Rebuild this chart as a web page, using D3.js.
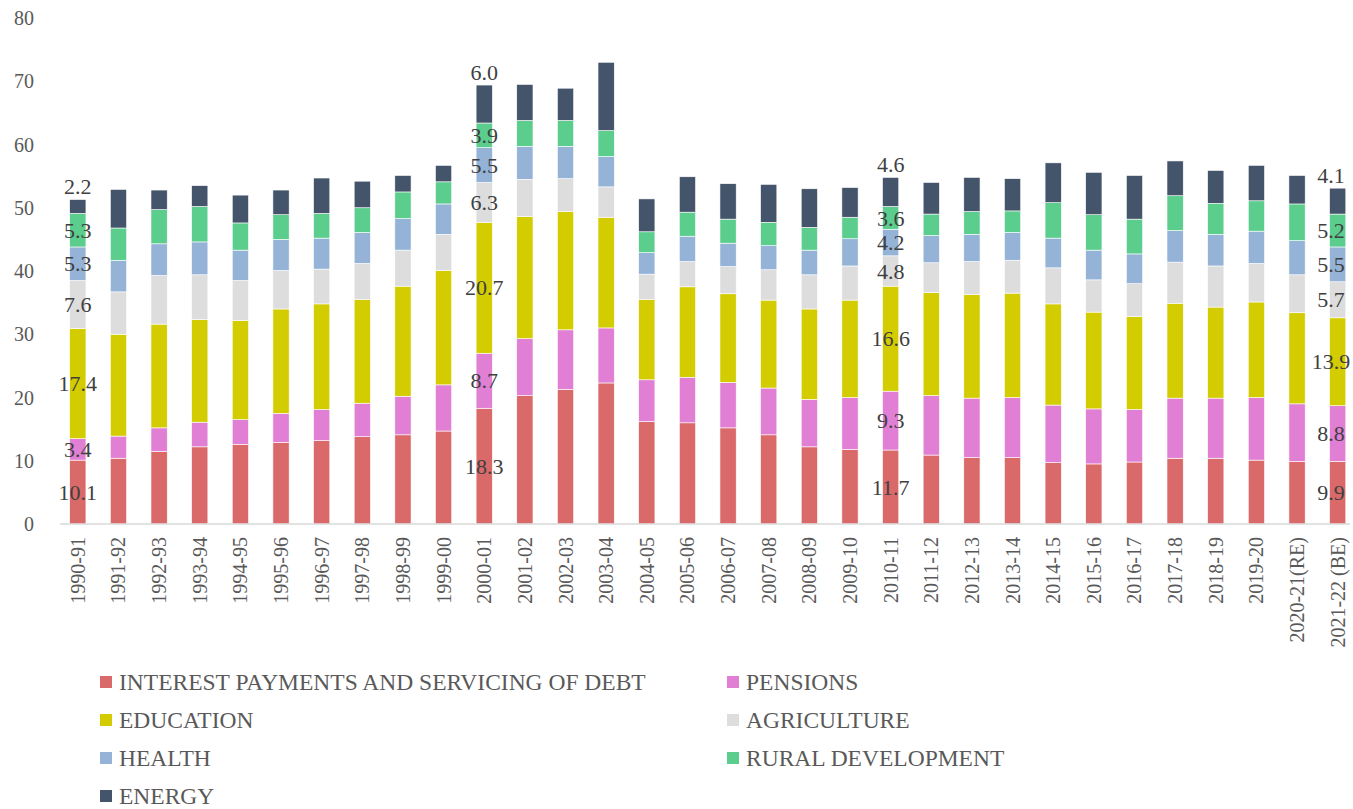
<html>
<head>
<title>Expenditure shares</title>
<script src="https://cdn.jsdelivr.net/npm/d3@7"></script>
<style>
  body { margin: 0; background: #fff; }
  text { font-family: "Liberation Serif", "DejaVu Serif", serif; }
</style>
</head>
<body>
<script>
// years on the x axis
const years = ["1990-91","1991-92","1992-93","1993-94","1994-95","1995-96","1996-97","1997-98","1998-99","1999-00",
  "2000-01","2001-02","2002-03","2003-04","2004-05","2005-06","2006-07","2007-08","2008-09","2009-10",
  "2010-11","2011-12","2012-13","2013-14","2014-15","2015-16","2016-17","2017-18","2018-19","2019-20",
  "2020-21(RE)","2021-22 (BE)"];

const seriesNames = ["INTEREST PAYMENTS AND SERVICING OF DEBT","PENSIONS","EDUCATION","AGRICULTURE","HEALTH","RURAL DEVELOPMENT","ENERGY"];

// one array per series
const interest = [10.1,10.4,11.5,12.2,12.6,12.9,13.2,13.8,14.1,14.7,18.3,20.3,21.3,22.3,16.2,16.0,15.2,14.1,12.2,11.8,11.7,10.9,10.5,10.5,9.7,9.5,9.8,10.4,10.4,10.1,9.9,9.9];
const pensions = [3.4,3.5,3.7,3.9,3.9,4.6,4.9,5.3,6.1,7.3,8.7,9.0,9.4,8.7,6.6,7.2,7.2,7.4,7.5,8.2,9.3,9.4,9.4,9.5,9.1,8.7,8.3,9.5,9.5,9.9,9.1,8.8];
const education = [17.4,16.1,16.4,16.2,15.7,16.5,16.7,16.4,17.4,18.1,20.7,19.3,18.7,17.5,12.7,14.3,14.0,13.9,14.3,15.4,16.6,16.3,16.4,16.5,16.0,15.3,14.7,15.0,14.4,15.1,14.4,13.9];
const agriculture = [7.6,6.7,7.7,7.1,6.3,6.1,5.5,5.7,5.7,5.7,6.3,5.9,5.2,4.8,4.0,4.0,4.3,4.8,5.4,5.4,4.8,4.7,5.2,5.2,5.7,5.1,5.2,6.5,6.5,6.1,6.0,5.7];
const health = [5.3,5.0,5.0,5.2,4.8,4.9,4.9,4.9,5.0,4.8,5.5,5.2,5.1,4.8,3.4,4.0,3.7,3.8,3.9,4.3,4.2,4.3,4.3,4.4,4.7,4.7,4.7,5.0,5.0,5.1,5.4,5.5];
const rural = [5.3,5.1,5.4,5.6,4.3,3.9,3.9,3.9,4.2,3.5,3.9,4.1,4.1,4.1,3.3,3.8,3.8,3.7,3.6,3.4,3.6,3.4,3.6,3.4,5.6,5.6,5.5,5.5,4.9,4.8,5.8,5.2];
const energy = [2.2,6.1,3.1,3.3,4.4,3.9,5.6,4.2,2.6,2.6,6.0,5.7,5.1,10.8,5.2,5.6,5.6,6.0,6.1,4.7,4.6,5.0,5.4,5.1,6.3,6.7,6.9,5.5,5.2,5.6,4.5,4.1];

// years whose segments carry value labels
const labelledYears = ["1990-91","2000-01","2010-11","2021-22 (BE)"];

const yTicks = [0,10,20,30,40,50,60,70,80];
const colors = ["#DA6A6A","#E07FD4","#D3CC00","#DDDDDD","#95B3D7","#5BCD8D","#44546A"];

const w = 1353, h = 809;
const svg = d3.select("body").append("svg").attr("width", w).attr("height", h);

const allSeries = [interest, pensions, education, agriculture, health, rural, energy];
const rows = years.map((yr, i) => {
  const r = { year: yr };
  seriesNames.forEach((s, k) => r[s] = allSeries[k][i]);
  return r;
});
const stacked = d3.stack().keys(seriesNames)(rows);

const x = d3.scaleBand().domain(years).range([57.5, 1358]).paddingInner(0.6).paddingOuter(0.3);
const y = d3.scaleLinear().domain([0, 80]).range([524, 18]);

// y tick labels
svg.append("g").selectAll("text").data(yTicks).join("text")
  .attr("x", 34).attr("y", d => y(d)).attr("dy", "0.35em")
  .attr("text-anchor", "end").attr("font-size", 20).attr("fill", "#595959")
  .text(d => d);

// bars
svg.append("g").selectAll("g").data(stacked).join("g")
  .attr("fill", (d, i) => colors[i])
  .selectAll("rect").data(d => d).join("rect")
  .attr("x", d => x(d.data.year))
  .attr("width", x.bandwidth())
  .attr("y", d => y(d[1]))
  .attr("height", d => y(d[0]) - y(d[1]))
  .attr("stroke", "#fff").attr("stroke-width", 0.6);

// axis line
svg.append("line").attr("x1", 60).attr("x2", 1350).attr("y1", y(0)).attr("y2", y(0))
  .attr("stroke", "#D9D9D9").attr("stroke-width", 1.5);

// x labels
svg.append("g").selectAll("text").data(years).join("text")
  .attr("transform", d => `translate(${x(d) + x.bandwidth() / 2 + 7},537) rotate(-90)`)
  .attr("text-anchor", "end").attr("font-size", 20).attr("fill", "#595959")
  .text(d => d);

// value labels
const lab = svg.append("g").attr("font-size", 22).attr("fill", "#404040").attr("text-anchor", "middle");
stacked.forEach((s, k) => {
  s.forEach(d => {
    if (!labelledYears.includes(d.data.year)) return;
    let cx = x(d.data.year) + x.bandwidth() / 2;
    if (cx > 1330) cx = 1331;
    const cy = k === seriesNames.length - 1 ? y(d[1]) - 13 : y((d[0] + d[1]) / 2);
    lab.append("text").attr("x", cx).attr("y", cy).attr("dy", "0.35em")
      .text(d3.format(".1f")(d[1] - d[0]));
  });
});

// legend
const leg = svg.append("g").selectAll("g").data(seriesNames).join("g")
  .attr("transform", (d, i) => `translate(${i % 2 === 0 ? 100 : 727},${682 + Math.floor(i / 2) * 38})`);
leg.append("rect").attr("x", 0).attr("y", -6).attr("width", 12).attr("height", 12)
  .attr("fill", (d, i) => colors[i]);
leg.append("text").attr("x", 19).attr("y", 0).attr("dy", "0.35em")
  .attr("font-size", 23.5).attr("fill", "#595959").text(d => d);
</script>
</body>
</html>
